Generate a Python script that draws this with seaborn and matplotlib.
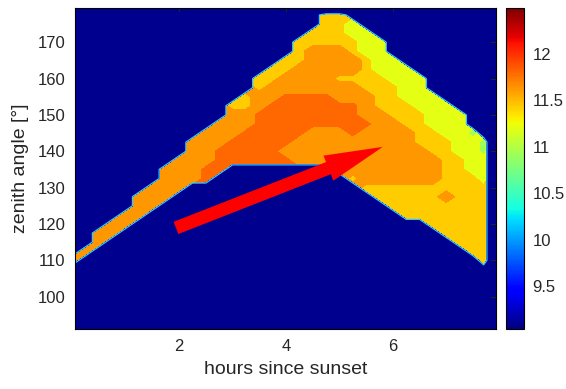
import numpy as np
import matplotlib
import matplotlib.pyplot as plt
import seaborn as sns

sns.set_style("white")
plt.rcParams["font.family"] = ["Liberation Sans", "DejaVu Sans"]

# grid nodes (hours since sunset, zenith angle)
HOURS = [0.0, 0.25, 0.5, 0.75, 1.0, 1.25, 1.5, 1.75, 2.0, 2.25, 2.5,
         2.75, 3.0, 3.25, 3.5, 3.75, 4.0, 4.25, 4.5, 4.75, 5.0, 5.25,
         5.5, 5.75, 6.0, 6.25, 6.5, 6.75, 7.0, 7.25, 7.5, 7.7, 7.82]
ZENITH = [178.1, 177.5, 175, 172.5, 170, 167.5, 165, 162.5, 160, 157.5,
          155, 152.5, 150, 147.5, 145, 142.5, 140, 137.5, 135, 132.5,
          130, 127.5, 125, 122.5, 120, 117.5, 115, 112.5, 110, 107.5,
          105, 102.5, 100, 97.5, 95, 92.5, 90]

# value of each colour band seen in the map ('.' = no data)
BAND_VALUES = {".": 0.0, "g": 10.92, "y": 11.2, "d": 11.43, "o": 11.62, "r": 11.79}

# one string per zenith row (top to bottom), one character per hour column
GRID_ROWS = [
    "." * 33,                                                        # top
    "." * 19 + "dd" + "." * 12,                                      # 177.5
    "." * 19 + "ddy" + "." * 11,                                     # 175
    "." * 18 + "dddyy" + "." * 10,                                   # 172.5
    "." * 17 + "dddddyy" + "." * 9,                                  # 170
    "." * 17 + "dooodyy" + "." * 9,                                  # 167.5
    "." * 16 + "ddoooodyy" + "." * 8,                                # 165
    "." * 15 + "ddooooodyyy" + "." * 7,                              # 162.5
    "." * 14 + "ddooooddddyyy" + "." * 6,                            # 160
    "." * 14 + "d" + "o" * 7 + "dddyy" + "." * 6,                    # 157.5
    "." * 13 + "doorrrroooddyyy" + "." * 5,                          # 155
    "." * 12 + "ddo" + "r" * 7 + "odddyyy" + "." * 4,                # 152.5
    "." * 12 + "oo" + "r" * 8 + "oodddyyy" + "." * 3,                # 150
    "." * 11 + "ooo" + "r" * 9 + "ooddyyy" + "." * 3,                # 147.5
    "." * 10 + "ooorrrrrooorooooddyyg" + "." * 2,                    # 145
    "." * 9 + "ooorrrrr" + "o" * 9 + "dddyyg" + "." * 1,             # 142.5
    "." * 9 + "oorrrrr" + "o" * 11 + "ddyyg" + "." * 1,              # 140
    "." * 8 + "ooo" + "r" * 6 + "o" * 11 + "ddyy" + "." * 1,         # 137.5
    "." * 7 + "ooorr" + "." * 8 + "o" * 8 + "ddyy" + "." * 1,        # 135
    "." * 7 + "ooor" + "." * 10 + "d" + "o" * 6 + "dddy" + "." * 1,  # 132.5
    "." * 6 + "ooo" + "." * 13 + "d" * 10 + "." * 1,                 # 130
    "." * 5 + "ooo" + "." * 15 + "d" * 5 + "oddd" + "." * 1,         # 127.5
    "." * 5 + "oo" + "." * 17 + "d" * 8 + "." * 1,                   # 125
    "." * 4 + "oo" + "." * 19 + "d" * 7 + "." * 1,                   # 122.5
    "." * 3 + "oo" + "." * 22 + "d" * 5 + "." * 1,                   # 120
    "." * 2 + "oo" + "." * 24 + "d" * 4 + "." * 1,                   # 117.5
    "." * 2 + "o" + "." * 26 + "d" * 3 + "." * 1,                    # 115
    "." * 1 + "o" + "." * 28 + "dd" + "." * 1,                       # 112.5
    "o" + "." * 30 + "d" + "." * 1,                                  # 110
    "." * 33,                                                        # 107.5
    "." * 33,                                                        # 105
    "." * 33,                                                        # 102.5
    "." * 33,                                                        # 100
    "." * 33,                                                        # 97.5
    "." * 33,                                                        # 95
    "." * 33,                                                        # 92.5
    "." * 33,                                                        # 90
]

LEVELS = [-1, 9.6, 10.8, 11.04, 11.36, 11.5, 11.74, 11.84]
CBAR_TICKS = [9.5, 10, 10.5, 11, 11.5, 12]
X_TICKS = [2, 4, 6]
Y_TICKS = [100, 110, 120, 130, 140, 150, 160, 170]

# red arrow (tail -> tip) in data units
ARROW_TAIL = (1.94, 118.9)
ARROW_TIP = (5.81, 141.2)

NODATA = "#00008f"
EDGE = "#35c8ff"

Z = np.array([[BAND_VALUES[c] for c in row] for row in GRID_ROWS])
inside = Z > 0
# pad the empty nodes next to the data with their neighbours' value, so the
# colour bands run cleanly up to the data edge (the edge is drawn by the mask)
P = np.pad(Z, 1)
nb = np.max([P[1 + di:P.shape[0] - 1 + di, 1 + dj:P.shape[1] - 1 + dj]
             for di in (-1, 0, 1) for dj in (-1, 0, 1)], axis=0)
Z_fill = np.where(inside, Z, nb)
outside = (~inside).astype(float)

norm = matplotlib.colors.Normalize(vmin=9.04, vmax=12.49)

fig = plt.figure(figsize=(5.66, 3.89), dpi=100)
ax = fig.add_axes([75 / 566, 60 / 389, 421 / 566, 321 / 389])
cax = fig.add_axes([506 / 566, 60 / 389, 18 / 566, 321 / 389])
ax.set_facecolor(NODATA)

ax.contourf(HOURS, ZENITH, Z_fill, levels=LEVELS, cmap="jet", norm=norm)
ax.contourf(HOURS, ZENITH, outside, levels=[0.5, 1.5], colors=[NODATA])
ax.contour(HOURS, ZENITH, outside, levels=[0.5], colors=[EDGE], linewidths=0.9)

ax.annotate("", xy=ARROW_TIP, xytext=ARROW_TAIL,
            arrowprops=dict(arrowstyle="simple,head_length=2.1,head_width=0.97,tail_width=0.47",
                            mutation_scale=20, color="red", lw=0, shrinkA=0, shrinkB=0))

ax.set_xlim(0.05, 7.93)
ax.set_ylim(91.1, 179.4)
ax.set_xticks(X_TICKS)
ax.set_yticks(Y_TICKS)
ax.tick_params(direction="in", bottom=True, left=True, top=True, right=True,
               length=4, width=0.8, labelsize=12, pad=7, color="#222222")
ax.set_xlabel("hours since sunset", fontsize=14, labelpad=5)
ax.set_ylabel("zenith angle [°]", fontsize=14, labelpad=6)
for sp in ax.spines.values():
    sp.set_color("black")
    sp.set_linewidth(0.8)

sm = matplotlib.cm.ScalarMappable(norm=norm, cmap="jet")
cb = fig.colorbar(sm, cax=cax, ticks=CBAR_TICKS)
cb.ax.set_yticklabels([f"{t:g}" for t in CBAR_TICKS])
cax.tick_params(direction="in", left=True, right=True, length=3, width=0.8,
                labelsize=12, pad=6, color="#222222")
cb.outline.set_edgecolor("black")
cb.outline.set_linewidth(0.8)

fig.savefig("out.png", dpi=100)
